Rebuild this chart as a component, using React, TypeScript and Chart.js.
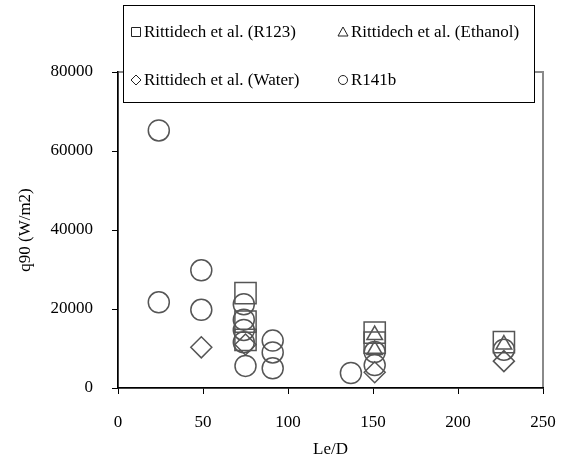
import React, { useEffect, useRef } from "react";
import { Chart, registerables } from "chart.js";

Chart.register(...registerables);

// Le/D values and q90 (W/m2) for each series
const r123X = [75, 75, 75, 151, 151, 227];
const r123Y = [24000, 16800, 12200, 14000, 11500, 11600];

const ethanolX = [151, 151, 227];
const ethanolY = [13400, 9600, 11000];

const waterX = [49, 75, 151, 227];
const waterY = [10300, 11000, 4000, 6800];

const r141bX = [24, 24, 49, 49, 74, 74, 74, 74, 75, 91, 91, 91, 137, 151, 151, 227];
const r141bY = [65200, 21700, 29800, 19800, 21200, 17300, 14700, 11600, 5600, 12000, 9000, 5000, 3800, 9100, 5800, 9700];

const xTicks = [0, 50, 100, 150, 200, 250];
const yTicks = [0, 20000, 40000, 60000, 80000];

const seriesLabels = [
  "Rittidech et al. (R123)",
  "Rittidech et al. (Ethanol)",
  "Rittidech et al. (Water)",
  "R141b",
];

const FONT = "'Liberation Serif', 'Times New Roman', serif";
const MARK = "#555555";

const toPoints = (xs: number[], ys: number[]) => xs.map((x, i) => ({ x, y: ys[i] }));

const framePlugin = {
  id: "frame",
  beforeDraw(chart: any) {
    const { ctx, chartArea: a } = chart;
    ctx.save();
    ctx.strokeStyle = "#8a8a8a";
    ctx.lineWidth = 2;
    ctx.strokeRect(a.left, a.top, a.right - a.left, a.bottom - a.top);
    ctx.restore();
  },
};

const legendPlugin = {
  id: "boxLegend",
  afterDraw(chart: any) {
    const { ctx } = chart;
    const bx = 123, by = 5, bw = 411, bh = 97;
    ctx.save();
    ctx.fillStyle = "#ffffff";
    ctx.fillRect(bx, by, bw, bh);
    ctx.strokeStyle = "#000000";
    ctx.lineWidth = 1;
    ctx.strokeRect(bx + 0.5, by + 0.5, bw, bh);
    const cols = [136, 343];
    const rows = [32, 80];
    const styles = ["rect", "triangle", "diamond", "circle"];
    ctx.font = `17px ${FONT}`;
    ctx.textBaseline = "middle";
    ctx.textAlign = "left";
    for (let i = 0; i < 4; i++) {
      const cx = cols[i % 2];
      const cy = rows[Math.floor(i / 2)];
      ctx.strokeStyle = "#222222";
      ctx.lineWidth = 1;
      ctx.beginPath();
      const s = styles[i];
      if (s === "rect") {
        ctx.rect(cx - 4.5, cy - 4.5, 9, 9);
      } else if (s === "triangle") {
        ctx.moveTo(cx, cy - 5);
        ctx.lineTo(cx + 5, cy + 4);
        ctx.lineTo(cx - 5, cy + 4);
        ctx.closePath();
      } else if (s === "diamond") {
        ctx.moveTo(cx, cy - 5);
        ctx.lineTo(cx + 5, cy);
        ctx.lineTo(cx, cy + 5);
        ctx.lineTo(cx - 5, cy);
        ctx.closePath();
      } else {
        ctx.arc(cx, cy, 4.5, 0, Math.PI * 2);
      }
      ctx.stroke();
      ctx.fillStyle = "#000000";
      ctx.fillText(seriesLabels[i], cx + 8, cy + 1);
    }
    ctx.restore();
  },
};

export default function App() {
  const ref = useRef<HTMLCanvasElement | null>(null);

  useEffect(() => {
    document.body.style.margin = "0";
    if (!ref.current) return;
    const common = {
      showLine: false,
      borderColor: MARK,
      backgroundColor: "rgba(0,0,0,0)",
      borderWidth: 1.5,
    };
    const chart = new Chart(ref.current, {
      type: "scatter",
      data: {
        datasets: [
          { ...common, label: seriesLabels[0], data: toPoints(r123X, r123Y), pointStyle: "rect", pointRadius: 15 },
          { ...common, label: seriesLabels[1], data: toPoints(ethanolX, ethanolY), pointStyle: "triangle", pointRadius: 9 },
          { ...common, label: seriesLabels[2], data: toPoints(waterX, waterY), pointStyle: "rectRot", pointRadius: 10.5 },
          { ...common, label: seriesLabels[3], data: toPoints(r141bX, r141bY), pointStyle: "circle", pointRadius: 10.5 },
        ],
      },
      options: {
        animation: false,
        responsive: false,
        events: [],
        layout: { padding: { top: 72, right: 19, left: 0, bottom: 0 } },
        plugins: { legend: { display: false }, tooltip: { enabled: false } },
        scales: {
          x: {
            type: "linear",
            min: 0,
            max: 250,
            afterBuildTicks: (s: any) => { s.ticks = xTicks.map((v) => ({ value: v })); },
            afterFit: (s: any) => { s.height = 72; s.paddingLeft = 0; s.paddingRight = 0; },
            grid: { display: true, drawOnChartArea: false, drawTicks: true, tickLength: 6, color: "#000000", lineWidth: 1 },
            border: { display: true, color: "#000000", width: 1.5 },
            ticks: { padding: 18, color: "#000000", font: { family: FONT, size: 17 } },
            title: { display: true, text: "Le/D", color: "#000000", font: { family: FONT, size: 17 }, padding: { top: 0, bottom: 0 } },
          },
          y: {
            type: "linear",
            min: 0,
            max: 80000,
            afterBuildTicks: (s: any) => { s.ticks = yTicks.map((v) => ({ value: v })); },
            afterFit: (s: any) => { s.width = 118; s.paddingTop = 0; s.paddingBottom = 0; },
            grid: { display: true, drawOnChartArea: false, drawTicks: true, tickLength: 6, color: "#000000", lineWidth: 1 },
            border: { display: true, color: "#000000", width: 1.5 },
            ticks: { padding: 19, color: "#000000", font: { family: FONT, size: 17 }, callback: (v: any) => String(v) },
            title: { display: true, text: "q90 (W/m2)", color: "#000000", font: { family: FONT, size: 17 }, padding: { top: 15, bottom: 0 } },
          },
        },
      },
      plugins: [framePlugin, legendPlugin],
    });
    return () => chart.destroy();
  }, []);

  return <canvas ref={ref} width={562} height={460} style={{ display: "block" }} />;
}
